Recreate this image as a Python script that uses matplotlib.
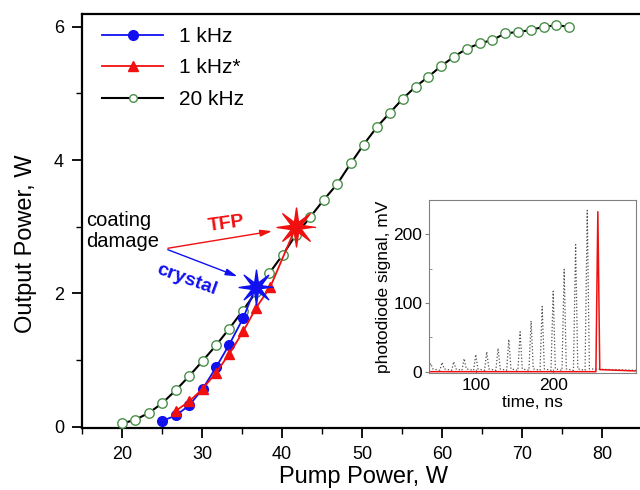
import numpy as np
import matplotlib
matplotlib.use("Agg")
import matplotlib.pyplot as plt
from matplotlib.ticker import MultipleLocator, FixedLocator

plt.rcParams['font.family'] = ['Liberation Sans', 'DejaVu Sans']

# 20 kHz: pump power (W), output power (W)
pump_20k = [20.0, 21.6, 23.4, 25.0, 26.75, 28.4, 30.1, 31.75, 33.4, 35.1, 36.75, 38.4,
            40.1, 41.75, 43.5, 45.2, 46.9, 48.6, 50.2, 51.9, 53.5, 55.1, 56.7, 58.3,
            59.9, 61.5, 63.1, 64.75, 66.3, 67.9, 69.5, 71.1, 72.75, 74.3, 75.9]
out_20k = [0.05, 0.10, 0.21, 0.35, 0.55, 0.76, 0.99, 1.22, 1.47, 1.74, 2.02, 2.30,
           2.58, 2.88, 3.14, 3.40, 3.64, 3.95, 4.23, 4.50, 4.71, 4.92, 5.10, 5.25,
           5.41, 5.55, 5.67, 5.75, 5.80, 5.90, 5.92, 5.95, 6.00, 6.02, 6.00]

# 1 kHz
pump_1k = [25.0, 26.75, 28.4, 30.1, 31.75, 33.4, 35.15]
out_1k = [0.085, 0.17, 0.32, 0.57, 0.89, 1.23, 1.63]
damage_1k = (36.7, 2.09)          # crystal damage

# 1 kHz*
pump_1ks = [26.75, 28.4, 30.1, 31.75, 33.4, 35.15, 36.75, 38.55]
out_1ks = [0.24, 0.38, 0.57, 0.81, 1.09, 1.43, 1.78, 2.10]
damage_1ks = (41.75, 3.0)         # TFP coating damage

# inset: photodiode pulse train (time ns, peak mV)
pulse_t = [41.8, 56.5, 71.6, 85.0, 100.0, 114.2, 128.8, 142.7, 157.3, 171.5,
           185.8, 200.0, 214.2, 229.0, 244.0]
pulse_h = [12, 13.5, 14.5, 19, 25, 29, 34, 47, 58, 74, 95, 117, 149, 185, 235]
red_t = 257.7
red_h = 233
trace_start, trace_end = 40, 307

blue = '#1010f0'
red = '#f01010'
green = '#4a8f4a'

# spiky 8-point star marker
ang = np.arange(16) * np.pi / 8
rad = np.where(np.arange(16) % 2 == 0, 1.0, 0.28)
star = list(zip(rad * np.cos(ang), rad * np.sin(ang)))

fig = plt.figure(figsize=(6.4, 4.9), dpi=100)
ax = fig.add_axes([82 / 640, 1 - 427.5 / 490, 560 / 640, 413.5 / 490])

ax.plot(pump_20k, out_20k, '-', color='black', lw=1.5, marker='o', ms=6.8,
        mfc='white', mec=green, mew=1.0, label='20 kHz', zorder=3)
ax.plot(pump_1k + [damage_1k[0]], out_1k + [damage_1k[1]], '-', color=blue, lw=1.3, zorder=4)
ax.plot(pump_1k, out_1k, 'o', color=blue, ms=7, zorder=4)
ax.plot(pump_1ks + [damage_1ks[0]], out_1ks + [damage_1ks[1]], '-', color=red, lw=1.3, zorder=4)
ax.plot(pump_1ks, out_1ks, '^', color=red, ms=7.5, zorder=4)
ax.plot(*damage_1k, marker=star, ms=25, color=blue, zorder=6)
ax.plot(*damage_1ks, marker=star, ms=28, color=red, zorder=6)

# legend handles
h1, = ax.plot([], [], '-', color=blue, lw=1.3, marker='o', ms=7)
h2, = ax.plot([], [], '-', color=red, lw=1.3, marker='^', ms=7.5)
h3, = ax.plot([], [], '-', color='black', lw=1.5, marker='o', ms=5.5, mfc='white', mec=green)
ax.legend([h1, h2, h3], ['1 kHz', '1 kHz*', '20 kHz'], loc='upper left',
          bbox_to_anchor=(0.018, 0.994), frameon=False, fontsize=15,
          handlelength=2.9, handletextpad=0.75, labelspacing=0.6, borderpad=0)

# annotations
ax.text(15.5, 2.94, 'coating\ndamage', fontsize=14.5, ha='left', va='center', linespacing=1.15)
ax.annotate('', xy=(39.1, 2.94), xytext=(25.4, 2.67),
            arrowprops=dict(arrowstyle='-|>,head_length=0.7,head_width=0.2', color=red, lw=1))
ax.annotate('', xy=(34.75, 2.24), xytext=(25.4, 2.67),
            arrowprops=dict(arrowstyle='-|>,head_length=0.7,head_width=0.2', color=blue, lw=1))
ax.text(33.1, 3.04, 'TFP', color=red, fontsize=14, fontweight='bold', rotation=8,
        ha='center', va='center')
ax.text(28.1, 2.21, 'crystal', color=blue, fontsize=14, fontweight='bold', rotation=-20,
        ha='center', va='center')

ax.set_xlim(15, 85)
ax.set_ylim(-0.012, 6.19)
ax.xaxis.set_major_locator(MultipleLocator(10))
ax.xaxis.set_minor_locator(MultipleLocator(5))
ax.yaxis.set_major_locator(MultipleLocator(2))
ax.yaxis.set_minor_locator(MultipleLocator(1))
ax.tick_params(which='major', direction='out', length=7, width=1.3, labelsize=13, pad=6)
ax.tick_params(which='minor', direction='out', length=4, width=1.0)
ax.tick_params(top=False, right=False)
for s in ['left', 'bottom', 'top']:
    ax.spines[s].set_linewidth(1.6)
ax.spines['right'].set_visible(False)

ax.set_xlabel('Pump Power, W', fontsize=17)
ax.set_ylabel('Output Power, W', fontsize=17)
ax.xaxis.set_label_coords(0.502, -0.094)
ax.yaxis.set_label_coords(-0.08, 0.445)

# inset
ins = fig.add_axes([429.3 / 640, 1 - 372.7 / 490, 206.7 / 640, 172.7 / 490])
bt, bv = [trace_start], [2]
for t, h in zip(pulse_t, pulse_h):
    bt += [t - 2.8, t, t + 2.8]
    bv += [2, h, 4]
bt.append(trace_end)
bv.append(2)
ins.plot(bt, bv, ':', color='#505050', lw=0.9)
ins.plot([trace_start, red_t - 2.5, red_t, red_t + 2.5, trace_end],
         [0, 0, red_h, 3, 1], '-', color=red, lw=1.1)
ins.set_xlim(trace_start, trace_end)
ins.set_ylim(-1.5, 250)
ins.xaxis.set_major_locator(FixedLocator([100, 200]))
ins.yaxis.set_major_locator(MultipleLocator(100))
ins.yaxis.set_minor_locator(MultipleLocator(50))
ins.tick_params(which='major', direction='out', length=3, labelsize=12.5, pad=2, color='#808080')
ins.tick_params(which='minor', direction='in', length=2, color='#808080')
ins.tick_params(axis='x', direction='in', pad=4)
for s in ins.spines.values():
    s.set_color('#808080')
ins.set_xlabel('time, ns', fontsize=12.5, labelpad=1)
ins.set_ylabel('photodiode signal, mV', fontsize=12.5, labelpad=2)

fig.savefig('out.png', dpi=100)
